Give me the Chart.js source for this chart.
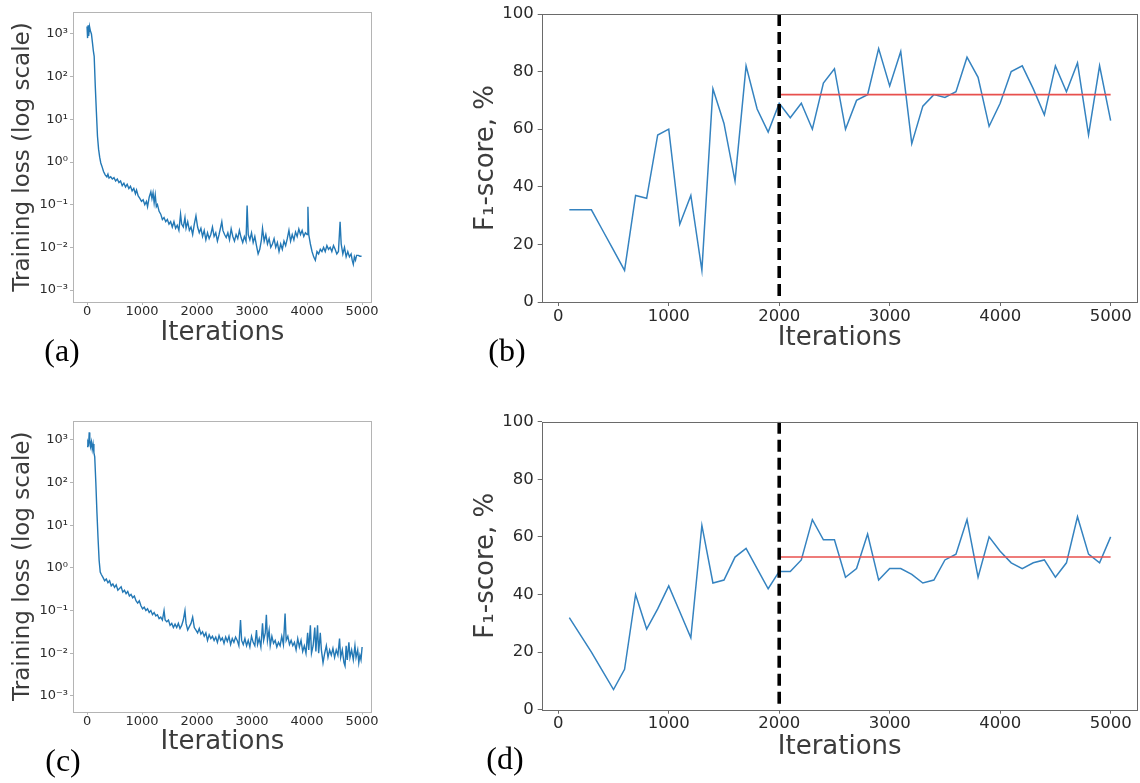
<!DOCTYPE html>
<html><head><meta charset="utf-8">
<script src="https://cdn.jsdelivr.net/npm/chart.js@4.4.0/dist/chart.umd.min.js"></script>
<style>
html,body{margin:0;padding:0;background:#fff;width:1140px;height:783px;overflow:hidden;position:relative}
canvas{position:absolute}
.lab{position:absolute;font-family:"Liberation Serif","Times New Roman",serif;font-size:32px;line-height:1;color:#000;transform:translate(-50%,-50%);white-space:nowrap}
</style></head><body>
<canvas id="ca" width="380" height="346" style="left:0;top:0"></canvas>
<canvas id="cb" width="670" height="352" style="left:470px;top:0"></canvas>
<canvas id="cc" width="380" height="356" style="left:0;top:400px"></canvas>
<canvas id="cd" width="670" height="361" style="left:470px;top:400px"></canvas>
<div class="lab" style="left:62px;top:350px">(a)</div>
<div class="lab" style="left:507px;top:350px">(b)</div>
<div class="lab" style="left:63px;top:760px">(c)</div>
<div class="lab" style="left:505px;top:758px">(d)</div>
<script>
// ---------- data ----------
const iterTicks = [0, 1000, 2000, 3000, 4000, 5000];
const f1Ticks = [0, 20, 40, 60, 80, 100];
const logTicks = [1e-3, 1e-2, 1e-1, 1, 10, 100, 1000];

const evalIters = [100,200,300,400,500,600,700,800,900,1000,1100,1200,1300,1400,1500,1600,1700,1800,1900,2000,
  2100,2200,2300,2400,2500,2600,2700,2800,2900,3000,3100,3200,3300,3400,3500,3600,3700,3800,3900,4000,
  4100,4200,4300,4400,4500,4600,4700,4800,4900,5000];
const f1B = [32,32,32,25,18,11,37,36,58,60,27,37,11,74,62,42,82,67,59,69,
  64,69,60,76,81,60,70,72,88,75,87,55,68,72,71,73,85,78,61,69,
  80,82,74,65,82,73,83,58,82,63];
const f1D = [32,26,20,13.5,7,14,40,28,35,43,34,25,64,44,45,53,56,49,42,48,
  48,52,66,59,59,46,49,61,45,49,49,47,44,45,52,54,66,46,60,55,
  51,49,51,52,46,51,67,54,51,60];
const splitIter = 2000;
const endIter = 5000;
const meanB = 72;
const meanD = 53;

const lossA = [[0,1500],[10,800],[20,1600],[30,900],[45,1500],[60,1200],[80,1000],[100,600],[115,400],[130,300],
 [150,60],[170,15],[190,4],[210,2],[230,1.3],[250,0.95],[270,0.8],[300,0.6],[330,0.5],[360,0.45],
 [380,0.52],[400,0.42],[430,0.45],[460,0.4],[490,0.43],[520,0.36],[550,0.4],[580,0.33],[610,0.36],[640,0.28],
 [670,0.32],[700,0.26],[730,0.3],[760,0.24],[790,0.27],[820,0.21],[850,0.24],[880,0.18],[900,0.22],[930,0.16],
 [960,0.14],[990,0.12],[1020,0.13],[1050,0.1],[1080,0.12],[1100,0.09],[1130,0.15],[1160,0.2],[1180,0.14],[1200,0.19],
 [1220,0.11],[1240,0.17],[1260,0.09],[1280,0.1],[1310,0.07],[1340,0.06],[1370,0.045],[1400,0.05],[1430,0.04],[1460,0.045],
 [1490,0.035],[1520,0.04],[1550,0.03],[1580,0.04],[1610,0.028],[1640,0.033],[1670,0.025],[1700,0.06],[1720,0.035],[1750,0.03],
 [1780,0.05],[1800,0.028],[1830,0.04],[1860,0.025],[1890,0.03],[1920,0.02],[1950,0.035],[1980,0.055],[2010,0.03],[2040,0.022],
 [2070,0.028],[2100,0.018],[2130,0.025],[2160,0.015],[2190,0.022],[2220,0.016],[2250,0.02],[2280,0.03],[2310,0.018],[2340,0.022],
 [2370,0.014],[2400,0.02],[2430,0.03],[2450,0.04],[2470,0.025],[2500,0.02],[2530,0.017],[2560,0.022],[2590,0.015],[2620,0.027],
 [2650,0.018],[2680,0.014],[2710,0.02],[2740,0.016],[2770,0.025],[2800,0.017],[2830,0.013],[2860,0.018],[2890,0.014],[2910,0.095],
 [2930,0.02],[2960,0.015],[2990,0.022],[3020,0.013],[3050,0.018],[3080,0.011],[3110,0.007],[3140,0.009],[3170,0.015],[3190,0.028],
 [3220,0.014],[3250,0.02],[3280,0.012],[3310,0.016],[3340,0.01],[3370,0.012],[3400,0.016],[3430,0.01],[3460,0.013],[3490,0.008],
 [3520,0.012],[3550,0.009],[3580,0.014],[3610,0.011],[3640,0.016],[3670,0.025],[3700,0.014],[3730,0.02],[3760,0.015],[3790,0.023],
 [3820,0.018],[3850,0.027],[3880,0.02],[3910,0.025],[3940,0.018],[3970,0.022],[4000,0.02],[4015,0.09],[4030,0.02],[4060,0.012],
 [4090,0.008],[4120,0.006],[4150,0.005],[4180,0.008],[4210,0.007],[4240,0.009],[4270,0.008],[4300,0.01],[4330,0.008],[4360,0.011],
 [4390,0.009],[4420,0.01],[4450,0.008],[4480,0.011],[4510,0.009],[4540,0.007],[4570,0.008],[4600,0.04],[4620,0.012],[4650,0.007],
 [4680,0.01],[4710,0.006],[4740,0.008],[4770,0.006],[4800,0.007],[4820,0.005],[4840,0.004],[4860,0.006],[4880,0.005],[4900,0.0065],
 [4930,0.0065],[4960,0.0062],[4990,0.0062]];

const lossC = [[0,700],[15,900],[30,800],[40,1500],[50,1000],[65,700],[80,900],[95,600],[110,800],[125,500],
 [140,400],[160,100],[180,20],[200,5],[220,1.5],[240,0.8],[260,0.7],[290,0.6],[320,0.5],[350,0.55],
 [380,0.45],[410,0.5],[440,0.38],[470,0.42],[500,0.35],[530,0.4],[560,0.3],[590,0.33],[620,0.36],[650,0.27],
 [680,0.3],[710,0.25],[740,0.28],[770,0.22],[800,0.24],[830,0.2],[860,0.22],[890,0.17],[920,0.15],[950,0.17],
 [980,0.13],[1010,0.11],[1040,0.12],[1070,0.1],[1100,0.11],[1130,0.09],[1160,0.1],[1190,0.08],[1220,0.09],[1250,0.075],
 [1280,0.08],[1310,0.065],[1340,0.07],[1370,0.06],[1400,0.1],[1420,0.06],[1450,0.055],[1480,0.06],[1510,0.045],[1540,0.05],
 [1570,0.04],[1600,0.048],[1630,0.04],[1660,0.05],[1690,0.038],[1720,0.045],[1750,0.06],[1780,0.1],[1800,0.05],[1830,0.035],
 [1860,0.042],[1890,0.05],[1920,0.07],[1950,0.04],[1980,0.035],[2010,0.03],[2040,0.038],[2070,0.028],[2100,0.032],[2130,0.025],
 [2160,0.03],[2190,0.02],[2220,0.027],[2250,0.022],[2280,0.025],[2310,0.02],[2340,0.024],[2370,0.018],[2400,0.026],[2430,0.02],
 [2460,0.023],[2490,0.017],[2520,0.024],[2550,0.019],[2580,0.025],[2610,0.016],[2640,0.022],[2670,0.018],[2700,0.024],[2730,0.02],
 [2760,0.015],[2790,0.06],[2810,0.02],[2840,0.016],[2870,0.022],[2900,0.015],[2930,0.02],[2960,0.014],[2990,0.025],[3020,0.018],
 [3050,0.015],[3080,0.035],[3100,0.016],[3130,0.022],[3160,0.014],[3190,0.05],[3210,0.02],[3240,0.03],[3260,0.08],[3280,0.02],
 [3310,0.035],[3330,0.015],[3360,0.025],[3390,0.017],[3420,0.02],[3450,0.014],[3480,0.018],[3510,0.015],[3540,0.025],[3570,0.016],
 [3600,0.085],[3620,0.02],[3650,0.025],[3680,0.016],[3710,0.02],[3740,0.015],[3770,0.018],[3800,0.012],[3830,0.022],[3860,0.014],
 [3890,0.02],[3920,0.011],[3950,0.015],[3980,0.01],[4010,0.03],[4030,0.012],[4060,0.045],[4080,0.01],[4110,0.015],[4140,0.04],
 [4160,0.011],[4190,0.045],[4210,0.01],[4240,0.03],[4260,0.012],[4290,0.006],[4320,0.01],[4350,0.015],[4380,0.008],[4410,0.012],
 [4440,0.009],[4470,0.013],[4500,0.008],[4530,0.012],[4560,0.009],[4590,0.022],[4610,0.008],[4640,0.012],[4670,0.006],[4690,0.005],
 [4710,0.015],[4730,0.007],[4760,0.018],[4780,0.008],[4810,0.012],[4840,0.007],[4870,0.015],[4890,0.008],[4920,0.012],[4940,0.006],
 [4960,0.009],[4980,0.007],[5000,0.014]];

// ---------- rendering ----------
const FONT = '"DejaVu Sans", Verdana, sans-serif';
const SUP = {'-':'\u207B','0':'\u2070','1':'\u00B9','2':'\u00B2','3':'\u00B3'};
const supStr = n => String(n).split('').map(c => SUP[c]).join('');

const framePlugin = {
  id: 'frame',
  afterDraw(chart, args, opts) {
    const {ctx, chartArea: a} = chart;
    ctx.save();
    ctx.strokeStyle = opts.color || '#888';
    ctx.lineWidth = 1;
    ctx.strokeRect(Math.round(a.left) + 0.5, Math.round(a.top) + 0.5,
      Math.round(a.right - a.left) - 1, Math.round(a.bottom - a.top));
    ctx.restore();
  }
};
Chart.register(framePlugin);

function xAxis(o) {
  return {
    type: 'linear', min: o.min, max: o.max, position: 'bottom',
    afterBuildTicks: s => { s.ticks = iterTicks.map(v => ({value: v})); },
    afterFit: s => { s.height = o.h; },
    grid: {drawOnChartArea: false, drawTicks: true, tickLength: o.tl, color: o.spine},
    border: {display: false},
    ticks: {autoSkip: false, maxRotation: 0, padding: o.tpad, color: '#2a2a2a',
      font: {family: FONT, size: o.tsize, lineHeight: 1}, callback: v => String(v)},
    title: {display: true, text: 'Iterations', color: '#3c3c3c',
      font: {family: FONT, size: 26, lineHeight: 1}, padding: {top: 0, bottom: o.pb}}
  };
}

function makeLoss(id, pts, ymin, ymax, padTop) {
  new Chart(document.getElementById(id), {
    type: 'line',
    data: {datasets: [{
      data: pts.map(p => ({x: p[0], y: p[1]})),
      borderColor: '#2378b5', borderWidth: 1.4, pointRadius: 0, tension: 0, fill: false
    }]},
    options: {
      responsive: false, animation: false, events: [],
      layout: {padding: {top: padTop, right: 8, left: 0, bottom: 0}},
      plugins: {legend: {display: false}, tooltip: {enabled: false}, frame: {color: '#b4b4b4'}},
      scales: {
        x: xAxis({min: -255, max: 5180, h: (id === 'ca' ? 44 : 44.3), tl: 3, tpad: 0.5, tsize: 13,
          spine: '#b4b4b4', pb: (id === 'ca' ? 0 : 0.5)}),
        y: {
          type: 'logarithmic', min: ymin, max: ymax, position: 'left',
          afterBuildTicks: s => { s.ticks = logTicks.map(v => ({value: v})); },
          afterFit: s => { s.width = 73; },
          grid: {drawOnChartArea: false, drawTicks: true, tickLength: 3, color: '#b4b4b4'},
          border: {display: false},
          ticks: {autoSkip: false, padding: 2, color: '#2a2a2a',
            font: {family: FONT, size: 13, lineHeight: 1},
            callback: v => '10' + supStr(Math.round(Math.log10(v)))},
          title: {display: true, text: 'Training loss (log scale)', color: '#3c3c3c',
            font: {family: FONT, size: 23, lineHeight: 1}, padding: {top: 11.5, bottom: 0}}
        }
      }
    }
  });
}

function makeF1(id, vals, mean, padTop, xh) {
  new Chart(document.getElementById(id), {
    type: 'line',
    data: {datasets: [
      {data: [{x: splitIter, y: 100}, {x: splitIter, y: 0}], borderColor: '#000', borderWidth: 3.6,
        borderDash: [12, 6], borderCapStyle: 'butt', pointRadius: 0, order: 0},
      {data: [{x: splitIter, y: mean}, {x: endIter, y: mean}], borderColor: '#e8504e', borderWidth: 1.6,
        pointRadius: 0, order: 1},
      {data: evalIters.map((x, i) => ({x, y: vals[i]})), borderColor: '#3583c0', borderWidth: 1.5,
        pointRadius: 0, tension: 0, order: 2}
    ]},
    options: {
      responsive: false, animation: false, events: [],
      layout: {padding: {top: padTop, right: 2.3, left: 0, bottom: 0}},
      plugins: {legend: {display: false}, tooltip: {enabled: false}, frame: {color: '#6a6a6a'}},
      scales: {
        x: xAxis({min: -150, max: 5245, h: xh, tl: 4, tpad: 2, tsize: 16.5, spine: '#6a6a6a', pb: 0.5}),
        y: {
          type: 'linear', min: 0, max: 100, position: 'left',
          afterBuildTicks: s => { s.ticks = f1Ticks.map(v => ({value: v})); },
          afterFit: s => { s.width = 71.7; },
          grid: {drawOnChartArea: false, drawTicks: true, tickLength: 4, color: '#6a6a6a'},
          border: {display: false},
          ticks: {autoSkip: false, padding: 4, color: '#2a2a2a',
            font: {family: FONT, size: 16.5, lineHeight: 1}, callback: v => String(v)},
          title: {display: true, text: 'F\u2081-score, %', color: '#3c3c3c',
            font: {family: FONT, size: 26, lineHeight: 1}, padding: {top: 3, bottom: 0}}
        }
      }
    }
  });
}

makeLoss('ca', lossA, Math.pow(10, -3.28), Math.pow(10, 3.515), 12);
makeLoss('cc', lossC, Math.pow(10, -3.37), Math.pow(10, 3.45), 20.7);
makeF1('cb', f1B, meanB, 14, 50);
makeF1('cd', f1D, meanD, 21.7, 51.3);
</script>
</body></html>
